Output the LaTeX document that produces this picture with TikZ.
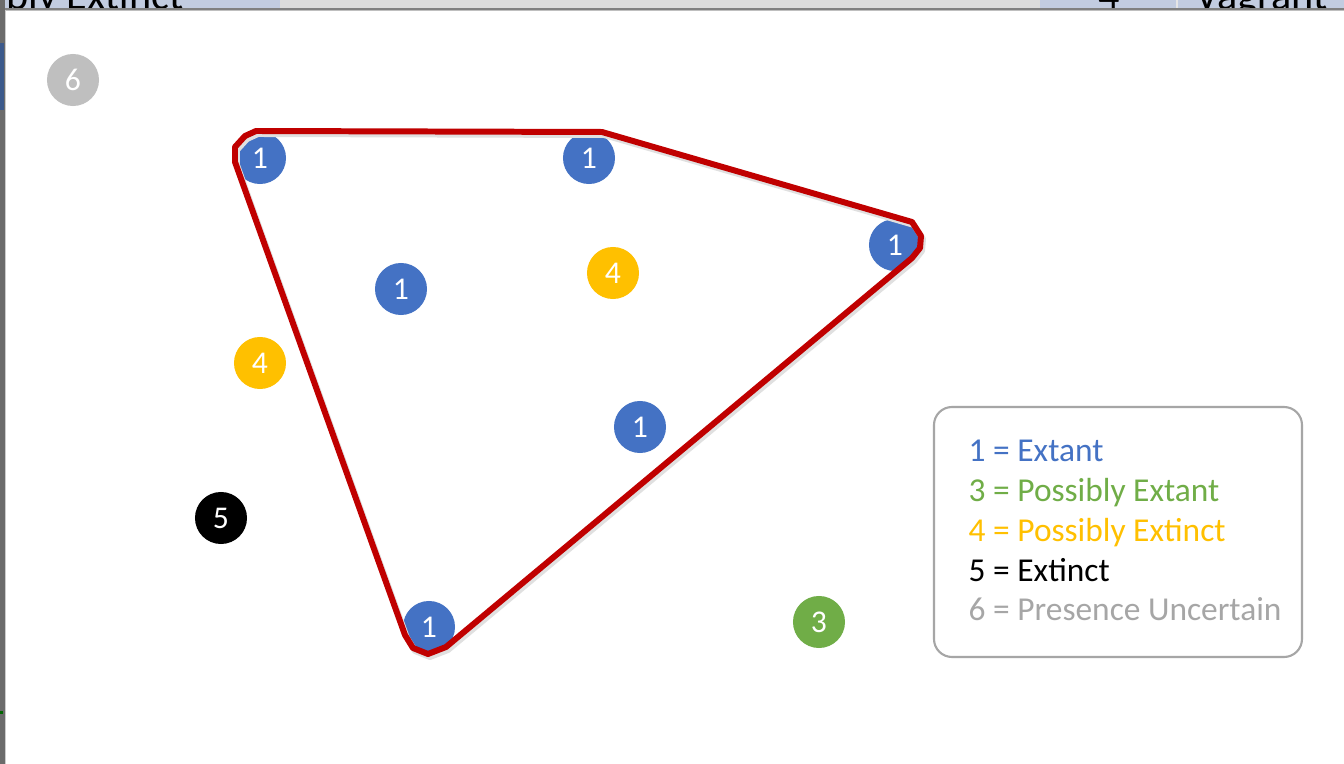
\documentclass[tikz,border=0pt]{standalone}
\usepackage{fontspec}
\setmainfont{Carlito}
\definecolor{cblue}{HTML}{4472C4}
\definecolor{cgreen}{HTML}{70AD47}
\definecolor{cyellow}{HTML}{FFC000}
\definecolor{cgray}{HTML}{BFBFBF}
\definecolor{lgray}{HTML}{A6A6A6}
\definecolor{cred}{HTML}{C00000}
\definecolor{stripblue}{HTML}{C2CCE0}
\definecolor{stripgray}{HTML}{DCDCDC}
\definecolor{edgegray}{HTML}{6B6B6B}
\definecolor{edgeblue}{HTML}{3C5A8C}
\begin{document}
\begin{tikzpicture}[x=0.01cm,y=-0.01cm,
  dot/.style={circle,minimum size=0.52cm,inner sep=0pt,text=white,font=\fontsize{9}{10}\selectfont},
  legtext/.style={anchor=base west,inner sep=0pt,font=\fontsize{9.5}{11}\selectfont},
  striptext/.style={anchor=base west,inner sep=0pt,font=\fontsize{12}{14}\selectfont}]
\useasboundingbox (0,0) rectangle (1344,764);
\fill[white] (0,0) rectangle (1344,764);
% top strip (spreadsheet behind)
\fill[stripblue] (0,0) rectangle (280,9);
\fill[stripgray] (280,0) rectangle (1040,9);
\fill[stripblue] (1040,0) rectangle (1344,9);
\draw[white!80!gray] (1177,0) -- (1177,9);
\begin{scope}
  \clip (0,0) rectangle (1344,8.5);
  \node[striptext] (t1) at (-4,10) {ibly Extinct};
  \node[striptext] (t2) at (1098,10) {4};
  \node[striptext] (t3) at (1195,10) {Vagrant};
\end{scope}
\fill[gray] (0,8.5) rectangle (1344,10.5);
\fill[black!25] (0,10.5) rectangle (1344,11.5);
% left strip
\fill[edgegray] (0,0) rectangle (5,764);
\fill[edgeblue] (0,43) rectangle (4,110);
\fill[black!60!green] (0,711) rectangle (3,714);
\draw[black!20] (5.5,10) -- (5.5,764);
% dots
\node[dot,fill=cgray] (d6) at (73,80) {6};
\node[dot,fill=cblue] (a1) at (260,158) {1};
\node[dot,fill=cblue] (a2) at (589,158) {1};
\node[dot,fill=cblue] (a3) at (895,245) {1};
\node[dot,fill=cblue] (a4) at (401,289) {1};
\node[dot,fill=cyellow] (y1) at (613,273) {4};
\node[dot,fill=cyellow] (y2) at (260,363) {4};
\node[dot,fill=cblue] (a5) at (640,427) {1};
\node[dot,fill=black] (k1) at (221,518) {5};
\node[dot,fill=cblue] (a6) at (429,627) {1};
\node[dot,fill=cgreen] (g1) at (819,622) {3};
% red hull
\draw[black!12,line width=1.7pt,line join=round,shift={(2,3)}]
  (235,162) -- (235,147) -- (245,136) -- (256,131) -- (602,132) -- (912,222)
  -- (921,236) -- (920,248) -- (912,258) -- (446,647) -- (428,654) -- (413,648)
  -- (405,635) -- cycle;
\draw[cred,line width=1.7pt,line join=round]
  (235,162) -- (235,147) -- (245,136) -- (256,131) -- (602,132) -- (912,222)
  -- (921,236) -- (920,248) -- (912,258) -- (446,647) -- (428,654) -- (413,648)
  -- (405,635) -- cycle;
% legend
\draw[lgray,line width=0.6pt,rounded corners=0.18cm] (934,407) rectangle (1302,657);
\node[legtext,text=cblue] (l1) at (968,462) {1 = Extant};
\node[legtext,text=cgreen] (l3) at (968,502) {3 = Possibly Extant};
\node[legtext,text=cyellow] (l4) at (968,542) {4 = Possibly Extinct};
\node[legtext,text=black] (l5) at (968,582) {5 = Extinct};
\node[legtext,text=lgray] (l6) at (968,621) {6 = Presence Uncertain};
\end{tikzpicture}
\end{document}
